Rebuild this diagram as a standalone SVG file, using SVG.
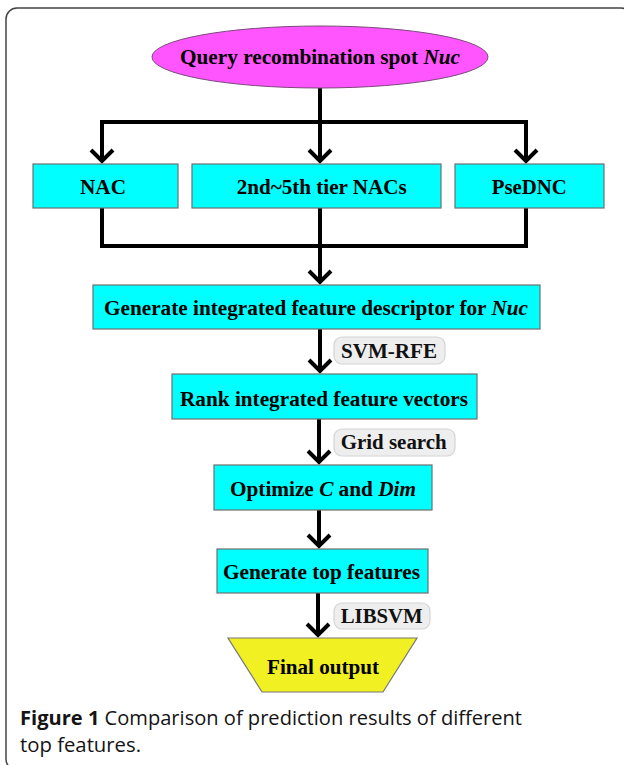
<svg xmlns="http://www.w3.org/2000/svg" width="624" height="765" viewBox="0 0 624 765">
<style>
.box{fill:#00FFFF;stroke:#6e6e6e;stroke-width:1.2}
.lbl{fill:#eeeeee;stroke:#d4d4d4;stroke-width:1.2}
.t{font-family:"Liberation Serif","Times New Roman",serif;font-weight:bold;font-size:21.5px;fill:#000;text-anchor:middle}
.ts{font-family:"Liberation Serif","Times New Roman",serif;font-weight:bold;font-size:20.5px;fill:#111;text-anchor:middle}
.c{fill:none;stroke:#000;stroke-width:4;stroke-linejoin:miter}
.cap{font-family:"Open Sans","Noto Sans",sans-serif;font-size:20px;fill:#151314}
</style>
<defs>
<marker id="arr" markerUnits="userSpaceOnUse" markerWidth="30" markerHeight="30" viewBox="-15 -15 30 30" refX="0" refY="0" orient="auto-start-reverse" overflow="visible">
<path d="M-11,-11 L0,0 L-11,11" fill="none" stroke="#000" stroke-width="4"/>
</marker>
</defs>
<rect x="6" y="8" width="626" height="762" rx="11" fill="#fff" stroke="#444" stroke-width="1.5"/>
<g id="connectors">
<path class="c" d="M320,88 V161" marker-end="url(#arr)"/>
<path class="c" d="M102,161 V122 H526 V161" marker-start="url(#arr)" marker-end="url(#arr)"/>
<path class="c" d="M102,208 V246 H526 V208"/>
<path class="c" d="M320,208 V282" marker-end="url(#arr)"/>
<path class="c" d="M320,329 V371" marker-end="url(#arr)"/>
<path class="c" d="M319,419 V462" marker-end="url(#arr)"/>
<path class="c" d="M319,510 V546" marker-end="url(#arr)"/>
<path class="c" d="M318,593 V635" marker-end="url(#arr)"/>
</g>
<g id="query">
<ellipse cx="320" cy="57" rx="168" ry="31" fill="#FF55FF" stroke="#7a4a7a" stroke-width="1"/>
<text class="t" x="320" y="64" textLength="280" lengthAdjust="spacingAndGlyphs">Query recombination spot <tspan font-style="italic">Nuc</tspan></text>
</g>
<g id="nac">
<rect class="box" x="33" y="164" width="145" height="44"/>
<text class="t" x="103" y="194" textLength="46" lengthAdjust="spacingAndGlyphs">NAC</text>
</g>
<g id="tier">
<rect class="box" x="192" y="164" width="249" height="44"/>
<text class="t" x="321.7" y="194" textLength="170" lengthAdjust="spacingAndGlyphs">2nd~5th tier NACs</text>
</g>
<g id="psednc">
<rect class="box" x="455" y="164" width="149" height="44"/>
<text class="t" x="529.2" y="194" textLength="75" lengthAdjust="spacingAndGlyphs">PseDNC</text>
</g>
<g id="integrated">
<rect class="box" x="93" y="285" width="447" height="44"/>
<text class="t" x="316" y="315" textLength="424" lengthAdjust="spacingAndGlyphs">Generate integrated feature descriptor for <tspan font-style="italic">Nuc</tspan></text>
</g>
<g id="svmrfe">
<rect class="lbl" x="334" y="337" width="111" height="27" rx="8"/>
<text class="ts" x="389" y="358" textLength="96" lengthAdjust="spacingAndGlyphs">SVM-RFE</text>
</g>
<g id="rank">
<rect class="box" x="172" y="374" width="305" height="45"/>
<text class="t" x="324" y="406" textLength="288" lengthAdjust="spacingAndGlyphs">Rank integrated feature vectors</text>
</g>
<g id="grid">
<rect class="lbl" x="334" y="429" width="121" height="27" rx="8"/>
<text class="ts" x="393.7" y="449" textLength="106" lengthAdjust="spacingAndGlyphs">Grid search</text>
</g>
<g id="optimize">
<rect class="box" x="214" y="465" width="218" height="45"/>
<text class="t" x="323" y="496" textLength="186" lengthAdjust="spacingAndGlyphs">Optimize <tspan font-style="italic">C</tspan> and <tspan font-style="italic">Dim</tspan></text>
</g>
<g id="top">
<rect class="box" x="217" y="549" width="211" height="44"/>
<text class="t" x="321.5" y="579" textLength="197" lengthAdjust="spacingAndGlyphs">Generate top features</text>
</g>
<g id="libsvm">
<rect class="lbl" x="334" y="603" width="96" height="26" rx="8"/>
<text class="ts" x="381.7" y="623" textLength="82" lengthAdjust="spacingAndGlyphs">LIBSVM</text>
</g>
<g id="final">
<polygon points="228,638 417,638 383,692 262,692" fill="#F0F023" stroke="#777" stroke-width="1.2"/>
<text class="t" x="323" y="674" textLength="112" lengthAdjust="spacingAndGlyphs">Final output</text>
</g>
<text class="cap" x="20" y="725" textLength="502" lengthAdjust="spacingAndGlyphs"><tspan font-weight="bold">Figure 1</tspan> Comparison of prediction results of different</text>
<text class="cap" x="20" y="752" textLength="121" lengthAdjust="spacingAndGlyphs">top features.</text>
</svg>
